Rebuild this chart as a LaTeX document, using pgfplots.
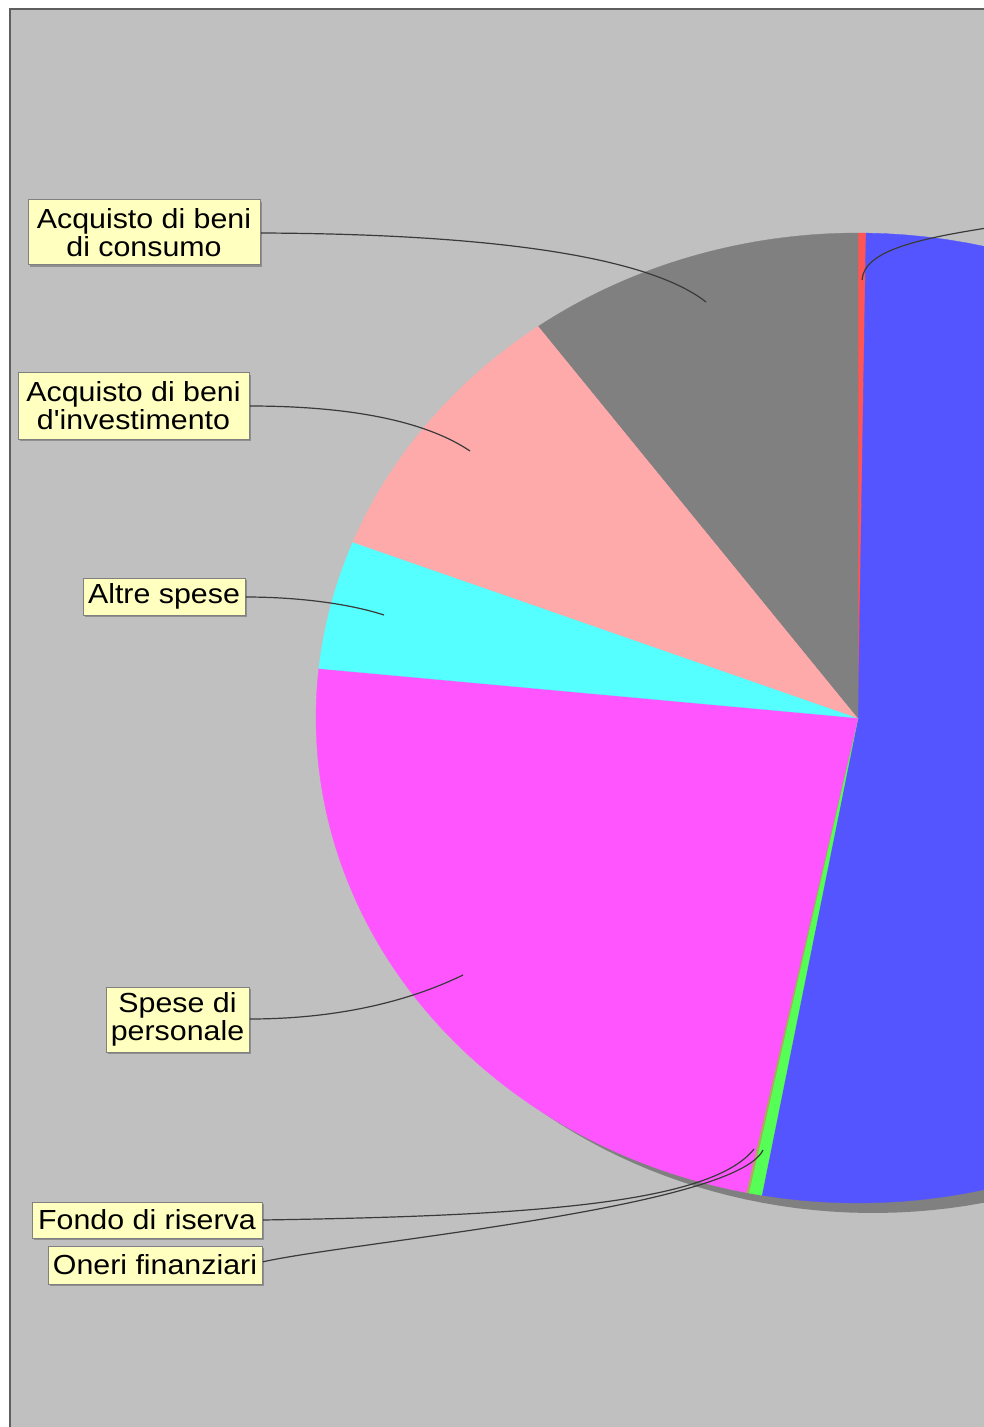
\documentclass[border=0pt]{standalone}
\usepackage{pgfplots}
\pgfplotsset{compat=1.18}
\usepackage{pgfplotstable}
\usepackage{fontspec}
\setmainfont{Liberation Sans}[FakeStretch=1.1, Ligatures=TeXOff]
\usetikzlibrary{shadows}

\definecolor{bggray}{HTML}{C0C0C0}
\definecolor{framec}{HTML}{5E5E5E}
\definecolor{shadowc}{HTML}{808080}
\definecolor{boxfill}{HTML}{FFFFC0}
\definecolor{boxline}{HTML}{808080}
\definecolor{linec}{HTML}{3A3A3A}
\definecolor{sc0}{HTML}{FF5555}
\definecolor{sc1}{HTML}{5555FF}
\definecolor{sc2}{HTML}{55FF55}
\definecolor{sc3}{HTML}{B0A860}
\definecolor{sc4}{HTML}{FF55FF}
\definecolor{sc5}{HTML}{55FFFF}
\definecolor{sc6}{HTML}{FFAAAA}
\definecolor{sc7}{HTML}{808080}

% shares (percent), clockwise from 12 o'clock
\pgfplotstableread{
value
0.236
52.60
0.39
0.08
23.31
4.28
9.06
10.03
}\piedata

\def\total{0}
\pgfplotsforeachungrouped \i in {0,...,7}{%
  \pgfplotstablegetelem{\i}{value}\of\piedata
  \pgfmathsetmacro\total{\total+\pgfplotsretval}%
}
\def\cum{0}
\pgfplotsforeachungrouped \i in {0,...,7}{%
  \pgfplotstablegetelem{\i}{value}\of\piedata
  \pgfmathsetmacro\angA{360*(\cum/\total)}%
  \pgfmathsetmacro\cum{\cum+\pgfplotsretval}%
  \pgfmathsetmacro\angB{360*(\cum/\total)}%
  \expandafter\xdef\csname angA\i\endcsname{\angA}%
  \expandafter\xdef\csname angB\i\endcsname{\angB}%
}

\tikzset{lbl/.style={draw=boxline, fill=boxfill, line width=0.5pt, inner sep=0pt,
  align=center, font=\fontsize{13.8}{14}\selectfont, text=black,
  drop shadow={shadow xshift=0.8pt, shadow yshift=-0.8pt, fill=black, opacity=0.25}},
  conn/.style={draw=linec, line width=0.6pt}}

\begin{document}
\begin{tikzpicture}
\begin{axis}[
  at={(0pt,0pt)}, anchor=south west,
  scale only axis, width=492pt, height=713.5pt,
  xmin=0, xmax=984, ymin=0, ymax=1427, y dir=reverse,
  hide axis, clip=true]
  \fill[white] (axis cs:0,0) rectangle (axis cs:984,1427);
  \draw[fill=bggray, draw=framec, line width=1pt] (axis cs:9.5,9.5) rectangle (axis cs:1200,1600);
  % pie shadow
  \addplot[fill=shadowc, draw=none, domain=0:360, samples=200]
    ({873+542*sin(x)}, {728-485*cos(x)}) -- cycle;
  % slices
  \pgfplotsinvokeforeach{0,...,7}{%
    \edef\temp{\noexpand\addplot[fill=sc#1, draw=sc#1, line width=0.15pt,
      domain=\csname angA#1\endcsname:\csname angB#1\endcsname, samples=90]
      ({858+542*sin(x)}, {718-485*cos(x)}) -- (axis cs:858,718) -- cycle;}%
    \temp
  }
  % connectors
  \draw[conn] (axis cs:260,233) .. controls (axis cs:500,234) and (axis cs:650,258) .. (axis cs:706,302);
  \draw[conn] (axis cs:249,406) .. controls (axis cs:360,406) and (axis cs:430,424) .. (axis cs:470,451);
  \draw[conn] (axis cs:245,597) .. controls (axis cs:300,597) and (axis cs:350,604) .. (axis cs:384,615);
  \draw[conn] (axis cs:249,1019) .. controls (axis cs:350,1019) and (axis cs:420,996) .. (axis cs:463,975);
  \draw[conn] (axis cs:262,1220) .. controls (axis cs:520,1216) and (axis cs:710,1205) .. (axis cs:754,1149);
  \draw[conn] (axis cs:262,1262) .. controls (axis cs:350,1242) and (axis cs:735,1208) .. (axis cs:763,1150);
  \draw[conn] (axis cs:862,280) .. controls (axis cs:864,250) and (axis cs:920,238) .. (axis cs:1000,226);
  % labels
  \node[lbl, minimum width=116pt, minimum height=32.5pt] at (axis cs:144,232.5) {Acquisto di beni\\di consumo};
  \node[lbl, minimum width=115.5pt, minimum height=33pt] at (axis cs:133.5,406) {Acquisto di beni\\d'investimento};
  \node[lbl, minimum width=81pt, minimum height=18.5pt] at (axis cs:164,596.5) {Altre spese};
  \node[lbl, minimum width=71.5pt, minimum height=32.5pt] at (axis cs:177.5,1019.5) {Spese di\\personale};
  \node[lbl, minimum width=115pt, minimum height=18pt] at (axis cs:147,1220) {Fondo di riserva};
  \node[lbl, minimum width=107pt, minimum height=19pt] at (axis cs:155,1265) {Oneri finanziari};
\end{axis}
\pgfresetboundingbox
\useasboundingbox (0pt,0pt) rectangle (491.6pt,713.5pt);
\end{tikzpicture}
\end{document}
